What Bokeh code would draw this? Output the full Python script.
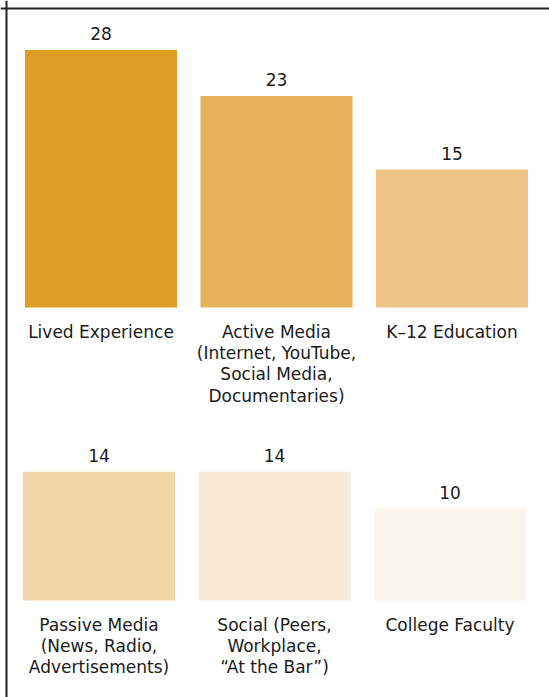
from bokeh.plotting import figure
from bokeh.models import Range1d, Span, ColumnDataSource
from bokeh.core.properties import value
from bokeh.embed import file_html
from bokeh.resources import INLINE

# ---- data ----
top_categories = ["Lived Experience",
                  "Active Media\n(Internet, YouTube,\nSocial Media,\nDocumentaries)",
                  "K\u201312 Education"]
top_values = [28, 23, 15]
top_colors = ["#DE9D23", "#E8B25C", "#EDC485"]

bottom_categories = ["Passive Media\n(News, Radio,\nAdvertisements)",
                     "Social (Peers,\nWorkplace,\n\u201cAt the Bar\u201d)",
                     "College Faculty"]
bottom_values = [14, 14, 10]
bottom_colors = ["#F2D5A8", "#F8E9D5", "#FCF5ED"]

# ---- layout constants (pixels) ----
W, H = 549, 697
SLOT_PX = 175.5          # distance between bar centres
FIRST_CENTER_PX = 100.5  # centre of first bar (upper row)
BAR_PX = 152
UNIT_PX = 9.2            # pixels per value unit
BOTTOM_BASE_PX = 600     # baseline of lower row (from top)
TOP_BASE_PX = 307        # baseline of upper row (from top)
BOTTOM_ROW_SHIFT_PX = -2

x_start = -FIRST_CENTER_PX / SLOT_PX
x_end = (W - FIRST_CENTER_PX) / SLOT_PX
y_start = -(H - BOTTOM_BASE_PX) / UNIT_PX
y_end = BOTTOM_BASE_PX / UNIT_PX
top_base = (BOTTOM_BASE_PX - TOP_BASE_PX) / UNIT_PX
bottom_base = 0.0

p = figure(width=W, height=H, output_backend="svg", toolbar_location=None,
           x_range=Range1d(x_start, x_end), y_range=Range1d(y_start, y_end),
           min_border=0, min_border_left=0, min_border_right=0,
           min_border_top=0, min_border_bottom=0)
p.axis.visible = False
p.grid.visible = False
p.outline_line_color = None
p.background_fill_color = "white"
p.border_fill_color = "white"

FONT = value("DejaVu Sans")

rows = [(top_categories, top_values, top_colors, top_base, 0),
        (bottom_categories, bottom_values, bottom_colors, bottom_base, BOTTOM_ROW_SHIFT_PX)]
for cats, vals, cols, base, shift in rows:
    xs = [i + shift / SLOT_PX for i in range(len(cats))]
    src = ColumnDataSource(dict(
        x=xs,
        bottom=[base] * len(vals),
        top=[base + v for v in vals],
        color=cols,
        label=[str(v) for v in vals],
        cat=cats,
    ))
    p.vbar(x="x", bottom="bottom", top="top", width=BAR_PX / SLOT_PX,
           fill_color="color", line_color=None, source=src)
    p.text(x="x", y="top", text="label", source=src, text_align="center",
           text_baseline="alphabetic", y_offset=-16, text_font=FONT,
           text_font_size="17px", text_color="#1a1a1a")
    p.text(x="x", y="bottom", text="cat", source=src, text_align="center",
           text_baseline="top", y_offset=14, text_font=FONT,
           text_font_size="17px", text_color="#1a1a1a", text_line_height=1.07)

# frame lines (top and left)
p.add_layout(Span(location=y_end - 8 / UNIT_PX, dimension="width",
                  line_color="#222222", line_width=2))
p.add_layout(Span(location=x_start + 6 / SLOT_PX, dimension="height",
                  line_color="#222222", line_width=2))

open("out.html", "w").write(file_html(p, INLINE))
